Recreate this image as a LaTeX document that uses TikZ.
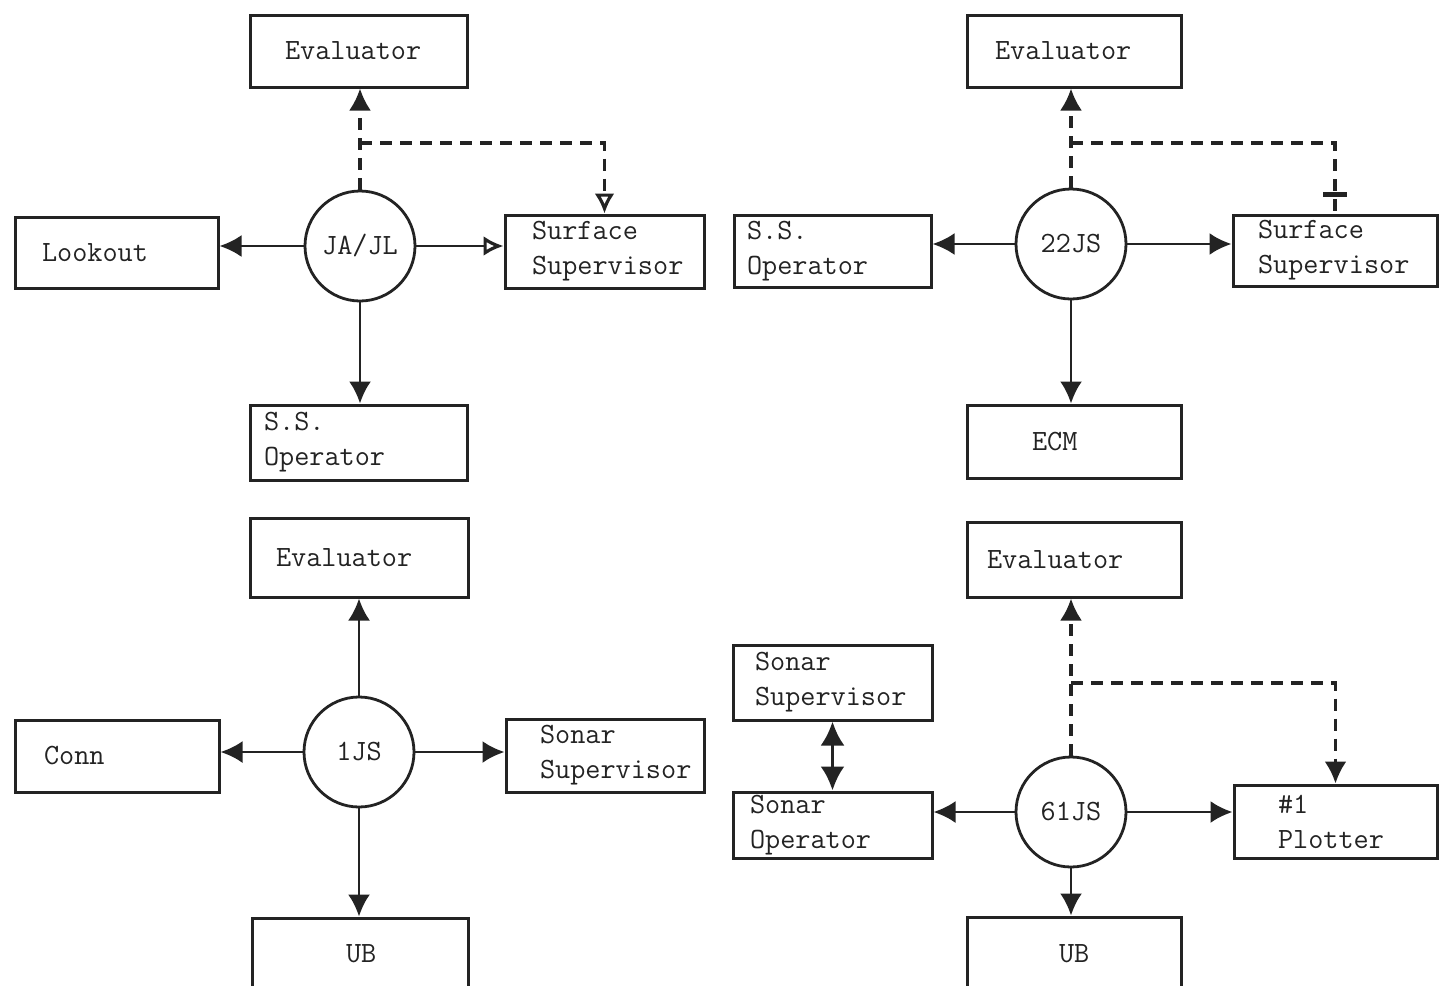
\documentclass[tikz,border=0pt]{standalone}
\usetikzlibrary{arrows.meta,calc}
\definecolor{ink}{RGB}{35,35,35}
\begin{document}
\begin{tikzpicture}[x=0.5pt,y=-0.5pt,
  font=\ttfamily\fontsize{14.7pt}{17.5pt}\selectfont,
  color=ink,
  box/.style n args={4}{draw,rectangle,line width=1.5pt,minimum width=#1,minimum height=#2,inner xsep=#3,inner ysep=0pt,text width=#4,align=left},
  hub/.style={draw,circle,minimum size=55pt,inner sep=0pt,line width=1.4pt},
  tip/.style={-{Latex[length=11pt,width=11pt]}},
  link/.style={line width=1.4pt,tip},
  openlink/.style={line width=1.4pt,-{Latex[open,length=10pt,width=10pt,line width=1.6pt]}},
  dashlink/.style={line width=1.6pt,dash pattern=on 6pt off 4pt},
]
\useasboundingbox (0,0) rectangle (1440,985);

% ---------- top left ----------
\node[box={108.5pt}{36pt}{17.5pt}{73.5pt}] (evalA) at (358.5,51) {Evaluator};
\node[box={101.5pt}{35.5pt}{13.5pt}{74.5pt}] (lookout) at (116.5,252.5) {Lookout};
\node[box={99.5pt}{36.5pt}{13.5pt}{72.5pt}] (survA) at (604.5,251.5) {Surface\\Supervisor};
\node[box={108.5pt}{37.5pt}{7pt}{94.5pt}] (ssopA) at (358.5,442.5) {S.S.\\Operator};
\node[hub] (A) at (360,246) {JA/JL};
\draw[link] (A) -- (A -| lookout.east);
\draw[openlink] (A) -- (A -| survA.west);
\draw[link] (A) -- (A |- ssopA.north);
\draw[dashlink,tip] (A) -- (A |- evalA.south);
\coordinate (jA) at (360,143);
\draw[dashlink,-{Latex[open,length=10pt,width=10pt,line width=1.6pt]}] (jA) -| (survA.north);

% ---------- top right ----------
\node[box={107pt}{36pt}{14pt}{79pt}] (evalB) at (1074,51) {Evaluator};
\node[box={98.5pt}{36pt}{6.5pt}{85.5pt}] (ssopB) at (832.5,251) {S.S.\\Operator};
\node[box={102pt}{35.5pt}{12.5pt}{77pt}] (survB) at (1335,250.5) {Surface\\Supervisor};
\node[box={107pt}{36.5pt}{32.5pt}{42pt}] (ecm) at (1074,441.5) {ECM};
\node[hub] (B) at (1071,244) {22JS};
\draw[link] (B) -- (B -| ssopB.east);
\draw[link] (B) -- (B -| survB.west);
\draw[link] (B) -- (B |- ecm.north);
\draw[dashlink,tip] (B) -- (B |- evalB.south);
\coordinate (jB) at (1071,143);
\draw[dashlink] (jB) -| (survB.north);
\draw[line width=2.2pt] ($(survB.north)+(-6pt,9.5pt)$) -- ++(24,0);

% ---------- bottom left ----------
\node[box={109pt}{39.5pt}{13pt}{83pt}] (evalC) at (359,557.5) {Evaluator};
\node[box={102pt}{36pt}{14.5pt}{73pt}] (conn) at (117,756) {Conn};
\node[box={99pt}{36.5pt}{17pt}{65pt}] (sonsupC) at (605,755.5) {Sonar\\Supervisor};
\node[box={108pt}{36pt}{47pt}{14pt}] (ubC) at (360,954) {UB};
\node[hub] (C) at (359,752) {1JS};
\draw[link] (C) -- (C |- evalC.south);
\draw[link] (C) -- (C -| conn.east);
\draw[link] (C) -- (C -| sonsupC.west);
\draw[link] (C) -- (C |- ubC.north);

% ---------- bottom right ----------
\node[box={107pt}{37.5pt}{10pt}{87pt}] (evalD) at (1074,559.5) {Evaluator};
\node[box={99.5pt}{37.5pt}{11pt}{77.5pt}] (sonsupD) at (832.5,682.5) {Sonar\\Supervisor};
\node[box={99.5pt}{33pt}{8.5pt}{82.5pt}] (sonopD) at (832.5,825) {Sonar\\Operator};
\node[box={101.5pt}{36.5pt}{22pt}{57.5pt}] (plotter) at (1335.5,821.5) {\#1\\Plotter};
\node[box={107pt}{36.5pt}{46pt}{15pt}] (ubD) at (1074,953.5) {UB};
\node[hub] (D) at (1071,812) {61JS};
\draw[link] (D) -- (D -| sonopD.east);
\draw[link] (D) -- (D -| plotter.west);
\draw[link] (D) -- (D |- ubD.north);
\draw[dashlink,tip] (D) -- (D |- evalD.south);
\coordinate (jD) at (1071,683);
\draw[dashlink,tip] (jD) -| (plotter.north);
\draw[line width=1.8pt,{Latex[length=12pt,width=12pt]}-{Latex[length=12pt,width=12pt]}] (sonsupD.south) -- (sonopD.north);
\end{tikzpicture}
\end{document}
